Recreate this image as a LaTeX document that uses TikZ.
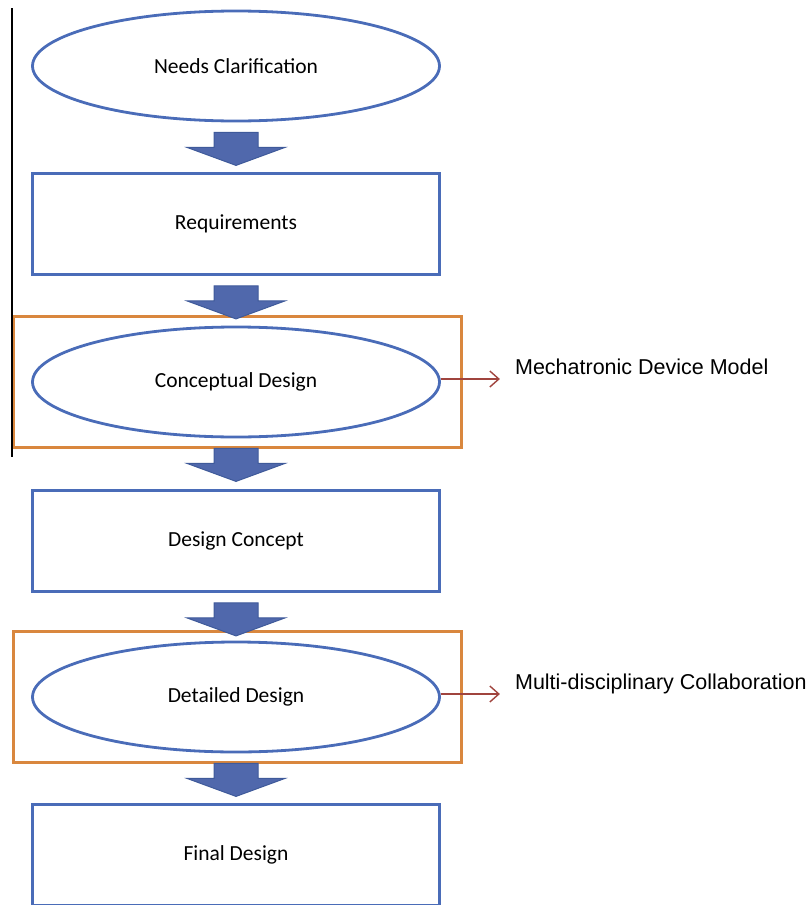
\documentclass[tikz,border=0pt]{standalone}
\usepackage{fontspec}
\setmainfont{Carlito}
\newfontfamily\arialfont{Liberation Sans}
\usetikzlibrary{calc,positioning,arrows.meta,shapes.geometric}

\definecolor{stageblue}{HTML}{4A6CB8}
\definecolor{flowfill}{HTML}{5068AC}
\definecolor{flowline}{HTML}{3F5A9A}
\definecolor{grouporange}{HTML}{D9873E}
\definecolor{linkred}{HTML}{A0443E}

\begin{document}
\begin{tikzpicture}[x=1pt, y=1pt, on grid, node distance=158pt,
    font=\fontsize{21.5}{24}\selectfont,
    phase/.style={ellipse, draw=stageblue, line width=2.8pt, minimum width=407pt, minimum height=110pt},
    result/.style={rectangle, draw=stageblue, line width=2.8pt, minimum width=407pt, minimum height=101pt},
    group/.style={rectangle, draw=grouporange, line width=3pt, minimum width=448pt, minimum height=131pt},
    flow/.style={fill=flowfill, draw=flowline, line width=1pt, line join=miter},
    link/.style={draw=linkred, line width=1.4pt, -{Straight Barb[length=9pt,width=16pt]}},
    note/.style={font=\arialfont\fontsize{21.5}{24}\selectfont, anchor=base west, inner sep=0pt}]

  \useasboundingbox (0,0) rectangle (809,-905);

  \node[phase] (needs) at (236,-66) {Needs Clarification};
  \node[result, below=of needs] (req) {Requirements};
  \node[phase, below=of req] (concept) {Conceptual Design};
  \node[result, below=159pt of concept] (dconcept) {Design Concept};
  \node[phase, below=156pt of dconcept] (detail) {Detailed Design};
  \node[result, below=of detail] (final) {Final Design};

  % orange groups round the design steps
  \node[group, xshift=1pt] (grp1) at (concept) {};
  \node[group, xshift=1pt] (grp2) at (detail) {};
  \draw[line width=1.2pt] (12,-8) -- (12,-457);

  % block arrows between the steps
  \foreach \from in {needs, req, concept, dconcept, detail}
    \draw[flow] ($(\from.south)+(-22,-10)$) -- ++(44,0) -- ++(0,-15) -- ++(27,0)
      -- ($(\from.south)+(0,-43)$) -- ++(-49,18) -- ++(27,0) -- cycle;

  % side notes
  \node[note] (model) at ($(concept.east)+(74,8)$) {Mechatronic Device Model};
  \node[note] (collab) at ($(detail.east)+(74,8)$) {Multi-disciplinary Collaboration};
  \coordinate (c1) at ($(concept.east)+(0,3)$);
  \coordinate (c2) at ($(detail.east)+(0,3)$);
  \draw[link, shorten >=15pt] (c1) -- (c1 -| model.west);
  \draw[link, shorten >=15pt] (c2) -- (c2 -| collab.west);
\end{tikzpicture}
\end{document}
